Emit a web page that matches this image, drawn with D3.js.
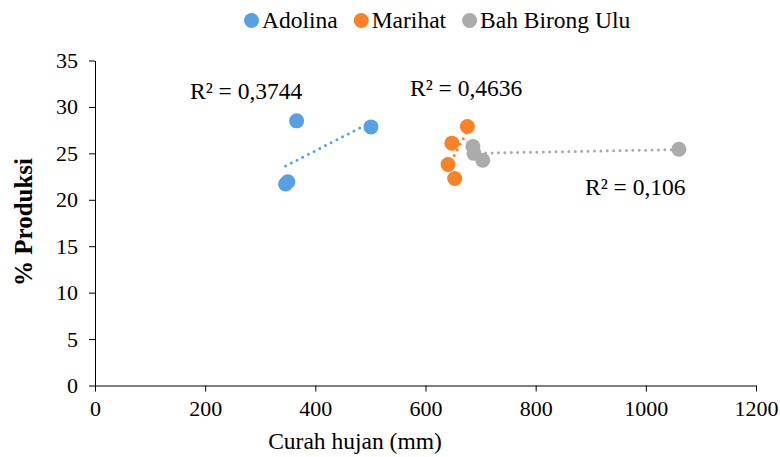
<!DOCTYPE html>
<html>
<head>
<meta charset="utf-8">
<script src="https://cdn.jsdelivr.net/npm/d3@7"></script>
<style>
  body { margin: 0; background: #fff; }
  svg text { font-family: "Liberation Serif", "Times New Roman", serif; }
</style>
</head>
<body>
<div id="chartContainer"></div>
<script>
var width = 780, height = 457;
var margin = { top: 60.5, right: 24, bottom: 71.5, left: 95 };
var fontFamily = '"Liberation Serif", "Times New Roman", serif';

// series names + colours
var seriesNames = ['Adolina', 'Marihat', 'Bah Birong Ulu'];
var seriesColors = ['#58A0E6', '#FB8127', '#ABABAB'];

// points: curah hujan (mm) vs % produksi
var adolinaX = [346, 350, 366, 501];
var adolinaY = [21.7, 21.95, 28.5, 27.85];
var marihatX = [676, 648, 641, 653];
var marihatY = [27.9, 26.1, 23.8, 22.3];
var bahX = [686, 688, 704, 1060];
var bahY = [25.75, 25.0, 24.25, 25.45];

var r2Labels = ['R² = 0,3744', 'R² = 0,4636', 'R² = 0,106'];

var xTicks = [0, 200, 400, 600, 800, 1000, 1200];
var yTicks = [0, 5, 10, 15, 20, 25, 30, 35];

// where the R² texts sit (left edge / baseline in px)
var r2Pos = [[190, 99], [410, 96], [585, 195]];

var markerR = 7.5;
var textSize = 23.5;
var trendStyle = 'fill: none; stroke-width: 3; stroke-linecap: round; stroke-dasharray: 0 6.4;';

function zipSeries(xs, ys) {
    var out = [];
    for (var i = 0; i < xs.length; i++) out.push({ x: xs[i], y: ys[i] });
    return out;
}

var series = [
    zipSeries(adolinaX, adolinaY),
    zipSeries(marihatX, marihatY),
    zipSeries(bahX, bahY)
];

// least squares line, spanning min..max x like the spreadsheet trendline
function trend(pts) {
    var mx = d3.mean(pts, d => d.x), my = d3.mean(pts, d => d.y);
    var sxy = d3.sum(pts, d => (d.x - mx) * (d.y - my));
    var sxx = d3.sum(pts, d => (d.x - mx) * (d.x - mx));
    var b = sxy / sxx, a = my - b * mx;
    var ext = d3.extent(pts, d => d.x);
    return ext.map(v => ({ x: v, y: a + b * v }));
}

var svg = d3.select('#chartContainer')
    .append('svg')
    .attr('width', width)
    .attr('height', height)
    .attr('font-family', fontFamily);

svg.append('rect').attr('width', width).attr('height', height).attr('fill', '#fff');

const x = d3.scaleLinear()
    .domain([0, 1200])
    .range([margin.left, width - margin.right - 0]);

const y = d3.scaleLinear()
    .domain([0, 35])
    .range([height - margin.bottom, margin.top]);

// axes
var xAxis = svg.append('g')
    .attr('transform', `translate(0, ${y(0)})`)
    .call(d3.axisBottom(x).tickValues(xTicks).tickFormat(d3.format('d'))
        .tickSize(6).tickPadding(9).tickSizeOuter(0));

var yAxis = svg.append('g')
    .attr('transform', `translate(${x(0)}, 0)`)
    .call(d3.axisLeft(y).tickValues(yTicks).tickFormat(d3.format('d'))
        .tickSize(6).tickPadding(11).tickSizeOuter(0));

[xAxis, yAxis].forEach(function (g) {
    g.attr('font-family', fontFamily).attr('font-size', 22);
    g.select('.domain').attr('stroke', '#000').attr('stroke-width', 1);
    g.selectAll('.tick line').attr('stroke', '#000');
    g.selectAll('.tick text').attr('fill', '#000');
});

// axis titles
svg.append('text')
    .attr('x', 355)
    .attr('y', 449)
    .attr('text-anchor', 'middle')
    .attr('font-size', textSize)
    .text('Curah hujan (mm)');

svg.append('text')
    .attr('transform', 'translate(32, 222) rotate(-90)')
    .attr('text-anchor', 'middle')
    .attr('font-size', 25)
    .attr('font-weight', 'bold')
    .text('% Produksi');

// trendlines under markers
let line = d3.line()
    .x(function (d) { return x(d.x) })
    .y(function (d) { return y(d.y) });

series.forEach(function (pts, i) {
    svg.append('path')
        .datum(trend(pts))
        .attr('style', trendStyle)
        .attr('stroke', seriesColors[i])
        .attr('d', line);
});

series.forEach(function (pts, i) {
    svg.append('g')
        .selectAll('circle')
        .data(pts)
        .join('circle')
        .attr('cx', d => x(d.x))
        .attr('cy', d => y(d.y))
        .attr('r', markerR)
        .attr('fill', seriesColors[i]);
});

// R² labels
r2Labels.forEach(function (t, i) {
    svg.append('text')
        .attr('x', r2Pos[i][0])
        .attr('y', r2Pos[i][1])
        .attr('font-size', textSize)
        .text(t);
});

// legend
var cursor = 244;
seriesNames.forEach(function (name, i) {
    svg.append('circle')
        .attr('cx', cursor + 7.5)
        .attr('cy', 20.5)
        .attr('r', 7.5)
        .attr('fill', seriesColors[i]);
    var t = svg.append('text')
        .attr('x', cursor + 18)
        .attr('y', 27.5)
        .attr('font-size', textSize)
        .text(name);
    cursor = cursor + 18 + t.node().getComputedTextLength() + 16;
});
</script>
</body>
</html>
